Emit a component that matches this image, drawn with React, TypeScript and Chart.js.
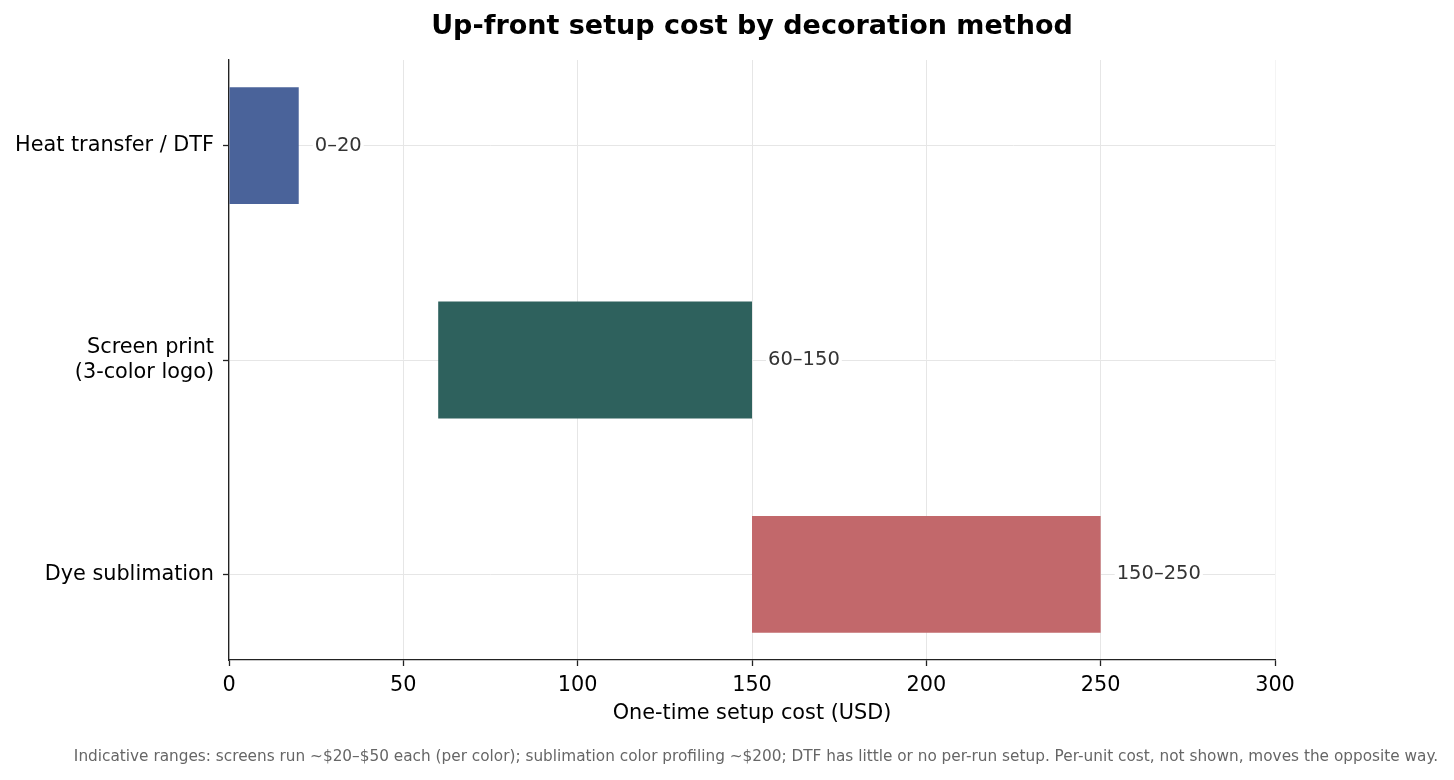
import React, { useEffect, useRef } from 'react'
import { Chart, registerables } from 'chart.js'
import type { Plugin, Chart as ChartJS } from 'chart.js'

Chart.register(...registerables)

const methods: string[][] = [['Heat transfer / DTF'], ['Screen print', '(3-color logo)'], ['Dye sublimation']]
const lowCost = [0, 60, 150]
const highCost = [20, 150, 250]
const barColors = ['#4a639a', '#2e615d', '#c2686b']
const xTicks = [0, 50, 100, 150, 200, 250, 300]

const TITLE = 'Up-front setup cost by decoration method'
const X_TITLE = 'One-time setup cost (USD)'
const NOTE =
  'Indicative ranges: screens run ~$20–$50 each (per color); sublimation color profiling ~$200; DTF has little or no per-run setup. Per-unit cost, not shown, moves the opposite way.'

const FONT = "'DejaVu Sans', sans-serif"

const App: React.FC = () => {
  const ref = useRef<HTMLCanvasElement | null>(null)

  useEffect(() => {
    if (!ref.current) return
    document.body.style.margin = '0'

    const extras: Plugin<'bar'> = {
      id: 'extras',
      afterDatasetsDraw(chart: ChartJS) {
        const { ctx, chartArea } = chart
        const xs = chart.scales.x
        const ys = chart.scales.y
        ctx.save()
        // range labels at the bar ends, on a white box
        ctx.font = `19.5px ${FONT}`
        ctx.textAlign = 'left'
        ctx.textBaseline = 'middle'
        lowCost.forEach((lo, i) => {
          const hi = highCost[i]
          const text = `${lo}–${hi}`
          const x = xs.getPixelForValue(hi) + 16
          const y = ys.getPixelForValue(i)
          const w = ctx.measureText(text).width
          ctx.fillStyle = '#ffffff'
          ctx.fillRect(x - 2, y - 11, w + 4, 22)
          ctx.fillStyle = '#333333'
          ctx.fillText(text, x, y)
        })
        // title
        ctx.fillStyle = '#000000'
        ctx.font = `bold 27px ${FONT}`
        ctx.textAlign = 'center'
        ctx.fillText(TITLE, (chartArea.left + chartArea.right) / 2, 27)
        // footnote
        ctx.fillStyle = '#666666'
        ctx.font = `15.3px ${FONT}`
        ctx.fillText(NOTE, 756, 757)
        ctx.restore()
      },
    }

    const chart = new Chart(ref.current, {
      type: 'bar',
      data: {
        datasets: [
          {
            data: lowCost.map((lo, i) => ({ x: [lo, highCost[i]], y: i })) as any,
            backgroundColor: barColors,
            borderWidth: 0,
            barPercentage: 0.545,
            categoryPercentage: 1,
          },
        ],
      },
      options: {
        indexAxis: 'y',
        animation: false,
        responsive: true,
        maintainAspectRatio: false,
        layout: { padding: { top: 60, right: 179, left: 0, bottom: 0 } },
        plugins: {
          legend: { display: false },
          tooltip: { enabled: false },
          title: { display: false },
        },
        scales: {
          x: {
            type: 'linear',
            min: 0,
            max: 300,
            afterBuildTicks: (scale: any) => {
              scale.ticks = xTicks.map((v) => ({ value: v }))
            },
            afterFit: (scale: any) => {
              scale.height = 120
            },
            ticks: { color: '#000', font: { family: FONT, size: 20.8 }, padding: 7 },
            grid: {
              color: (c: any) => (c.tick && c.tick.value === 300 ? '#f4f4f4' : '#e6e6e6'),
              lineWidth: 1,
              tickColor: '#222',
              tickLength: 6,
              tickWidth: 1.3,
            },
            border: { display: true, color: '#222', width: 1.3 },
            title: {
              display: true,
              text: X_TITLE,
              color: '#000',
              font: { family: FONT, size: 20.8 },
              padding: { top: 0, bottom: 54 },
            },
          },
          y: {
            type: 'linear',
            min: -0.4,
            max: 2.4,
            reverse: true,
            offset: false,
            afterBuildTicks: (scale: any) => {
              scale.ticks = methods.map((_, i) => ({ value: i }))
            },
            afterFit: (scale: any) => {
              scale.width = 229
            },
            ticks: {
              color: '#000',
              font: { family: FONT, size: 20.8 },
              padding: 9,
              callback: (v: any) => methods[Number(v)] ?? '',
            },
            grid: {
              offset: false,
              color: '#e6e6e6',
              lineWidth: 1,
              tickColor: '#222',
              tickLength: 6,
              tickWidth: 1.3,
            },
            border: { display: true, color: '#222', width: 1.3 },
          },
        },
      },
      plugins: [extras],
    })
    return () => chart.destroy()
  }, [])

  return (
    <div style={{ position: 'relative', width: 1454, height: 780 }}>
      <canvas ref={ref} />
    </div>
  )
}

export default App
